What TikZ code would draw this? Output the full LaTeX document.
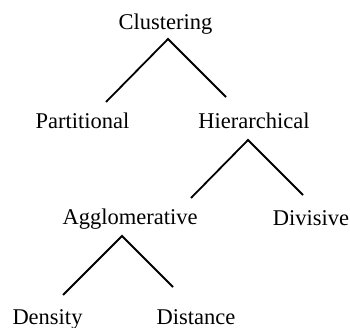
\documentclass[tikz,border=0pt]{standalone}
\usepackage{fontspec}
\setmainfont{Liberation Serif}
\usepackage{tikz}
\usetikzlibrary{positioning}

\begin{document}
\begin{tikzpicture}[x=1pt, y=-1pt,
  lbl/.style={anchor=base, inner sep=0pt, font=\fontsize{22.5}{26}\selectfont},
  leg/.style={line width=1.8pt, black}]
  \useasboundingbox (0,0) rectangle (350,328);

  % labels
  \node[lbl] (clu) at (165.5,30) {Clustering};
  \node[lbl] (par) at (82.5,129) {Partitional};
  \node[lbl] (hie) at (254,129) {Hierarchical};
  \node[lbl] (agg) at (130,225) {Agglomerative};
  \node[lbl] (div) at (311,226) {Divisive};
  \node[lbl] (den) at (47.5,324) {Density};
  \node[lbl] (dis) at (196,324) {Distance};

  % branch points
  \coordinate (clu-top) at (168,39);
  \coordinate (clu-l) at (106,102);
  \coordinate (clu-r) at (226,97);
  \coordinate (hie-top) at (248,140);
  \coordinate (hie-l) at (191,198);
  \coordinate (hie-r) at (303,195);
  \coordinate (agg-top) at (122,236);
  \coordinate (agg-l) at (63,295);
  \coordinate (agg-r) at (173,287);

  \draw[leg] (clu-l) -- (clu-top) -- (clu-r);
  \draw[leg] (hie-l) -- (hie-top) -- (hie-r);
  \draw[leg] (agg-l) -- (agg-top) -- (agg-r);
\end{tikzpicture}
\end{document}
